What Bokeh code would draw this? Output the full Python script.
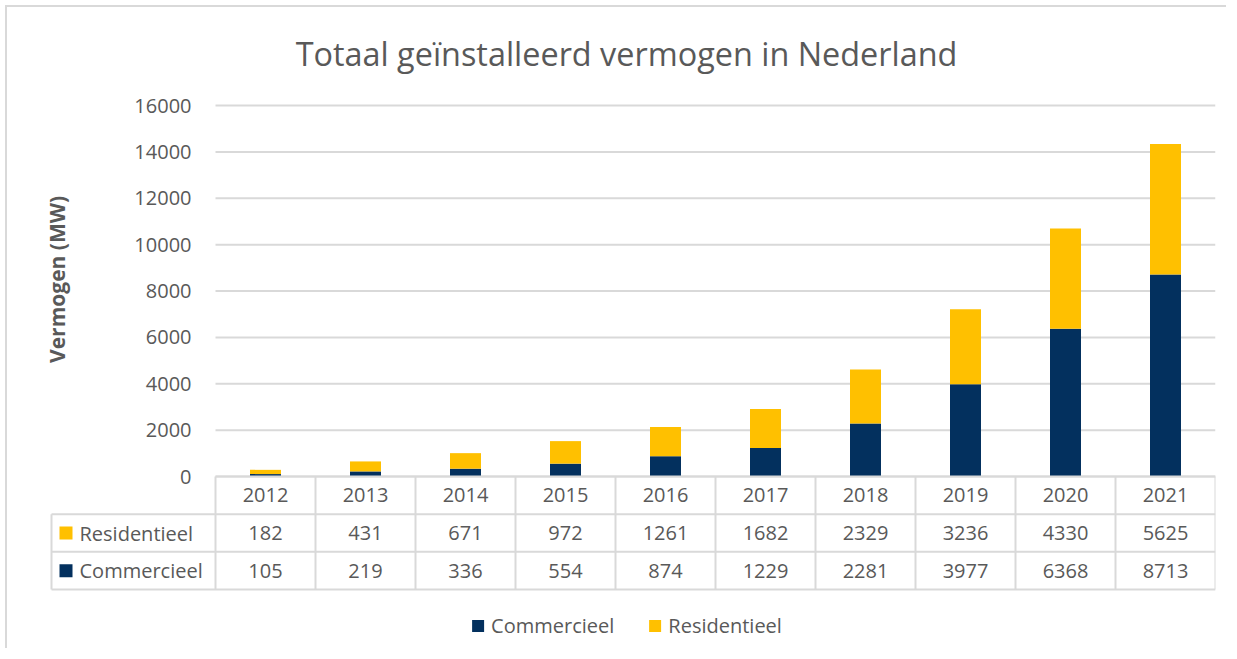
import numpy as np
from bokeh.plotting import figure
from bokeh.models import Range1d, Legend, LegendItem, ColumnDataSource
from bokeh.core.properties import value
from bokeh.embed import file_html
from bokeh.resources import INLINE

# ---- data ----
years = ["2012", "2013", "2014", "2015", "2016", "2017", "2018", "2019", "2020", "2021"]
residentieel = [182, 431, 671, 972, 1261, 1682, 2329, 3236, 4330, 5625]
commercieel = [105, 219, 336, 554, 874, 1229, 2281, 3977, 6368, 8713]
y_ticks = [0, 2000, 4000, 6000, 8000, 10000, 12000, 14000, 16000]
series_names = ["Residentieel", "Commercieel"]

title = "Totaal geïnstalleerd vermogen in Nederland"
y_label = "Vermogen (MW)"

NAVY = "#03305E"
GOLD = "#FFC000"
TXT = "#595959"
GRID = "#D9D9D9"
FONT = value("Open Sans")

# ---- layout (pixels) ----
FIG_W, FIG_H = 1221, 643
FRAME_TOP, FRAME_BOTTOM = 82, 643          # figure-relative
ZERO_PX, TOP_PX = 469, 98                   # pixel rows of value 0 and 16000
ROW_PX = 37.67                              # height of a table row
CAT_PX = 100.0                              # width of a category
LEFT_COL_PX = 164.0                         # width of the table's label column
EXTRA_LEFT_PX = 14.0                        # room left of the table for the axis label

n = len(years)
vpp = (y_ticks[-1] - y_ticks[0]) / (ZERO_PX - TOP_PX)
y_start = -(FRAME_BOTTOM - ZERO_PX) * vpp
y_end = y_ticks[-1] + (TOP_PX - FRAME_TOP) * vpp
t_start = -(FRAME_BOTTOM - ZERO_PX) / ROW_PX
t_end = (ZERO_PX - FRAME_TOP) / ROW_PX
x_tab = -LEFT_COL_PX / CAT_PX
x_start = x_tab - EXTRA_LEFT_PX / CAT_PX

p = figure(width=FIG_W, height=FIG_H,
           x_range=Range1d(x_start, n), y_range=Range1d(y_start, y_end),
           x_axis_location=None, y_axis_location=None,
           output_backend="svg", toolbar_location=None,
           min_border_left=int(44 - EXTRA_LEFT_PX), min_border_right=13,
           min_border_top=FRAME_TOP, min_border_bottom=0)
p.extra_y_ranges = {"tab": Range1d(t_start, t_end)}
p.grid.visible = False
p.outline_line_color = None
p.background_fill_color = "white"
p.border_fill_color = "white"
p.styles = {"border-top": "2px solid #D9D9D9", "border-left": "2px solid #D9D9D9",
            "margin-top": "5px", "margin-left": "5px"}

p.title.text = title
p.title.align = "center"
p.title.text_font = "Open Sans"
p.title.text_font_size = "32.4px"
p.title.text_font_style = "normal"
p.title.text_color = TXT
p.title.offset = -14
p.title.standoff = 30

# gridlines
p.segment(x0=[0] * len(y_ticks), x1=[n] * len(y_ticks), y0=y_ticks, y1=y_ticks,
          line_color=GRID, line_width=2)

# y tick labels
p.text(x=[-0.24] * len(y_ticks), y=y_ticks, text=[str(t) for t in y_ticks],
       text_align="right", text_baseline="middle", text_font=FONT,
       text_font_size="20px", text_color=TXT)

# y axis label
p.text(x=[x_tab + 0.055], y=[(y_ticks[0] + y_ticks[-1]) / 2 + 500], text=[y_label],
       angle=np.pi / 2, text_align="center", text_baseline="middle", text_font=FONT,
       text_font_size="21px", text_font_style="bold", text_color=TXT)

# bars
xc = np.arange(n) + 0.5
com = np.array(commercieel, dtype=float)
res = np.array(residentieel, dtype=float)
src = ColumnDataSource(dict(x=xc, com=com, tot=com + res))
r_com = p.vbar(x="x", width=0.31, bottom=0, top="com", source=src,
               fill_color=NAVY, line_color=None)
r_res = p.vbar(x="x", width=0.31, bottom="com", top="tot", source=src,
               fill_color=GOLD, line_color=None)

# ---- data table ----
tab = dict(line_color=GRID, line_width=2, y_range_name="tab")
p.segment(x0=[0], x1=[n], y0=[0], y1=[0], **tab)
p.segment(x0=[x_tab] * 3, x1=[n] * 3, y0=[-1, -2, -3], y1=[-1, -2, -3], **tab)
p.segment(x0=list(range(n + 1)), x1=list(range(n + 1)), y0=[0] * (n + 1), y1=[-3] * (n + 1), **tab)
p.segment(x0=[x_tab], x1=[x_tab], y0=[-1], y1=[-3], **tab)

txt = dict(text_align="center", text_baseline="middle", text_font=FONT,
           text_font_size="20px", text_color=TXT, y_range_name="tab")
p.text(x=xc, y=[-0.5] * n, text=years, **txt)
p.text(x=xc, y=[-1.5] * n, text=[str(v) for v in residentieel], **txt)
p.text(x=xc, y=[-2.5] * n, text=[str(v) for v in commercieel], **txt)

p.scatter(x=[x_tab + 0.145] * 2, y=[-1.5, -2.5], marker="square", size=13,
          fill_color=[GOLD, NAVY], line_color=None, y_range_name="tab")
p.text(x=[x_tab + 0.28] * 2, y=[-1.5, -2.5], text=series_names,
       text_align="left", text_baseline="middle", text_font=FONT,
       text_font_size="20px", text_color=TXT, y_range_name="tab")

# legend
legend = Legend(items=[LegendItem(label="Commercieel", renderers=[r_com]),
                       LegendItem(label="Residentieel", renderers=[r_res])],
                location="bottom_center", orientation="horizontal",
                glyph_width=15, glyph_height=15, label_standoff=6, spacing=33,
                padding=5, margin=11, border_line_color=None, background_fill_alpha=0,
                label_text_font="Open Sans", label_text_font_size="20px",
                label_text_color=TXT)
p.add_layout(legend)

open("out.html", "w").write(file_html(p, INLINE))
